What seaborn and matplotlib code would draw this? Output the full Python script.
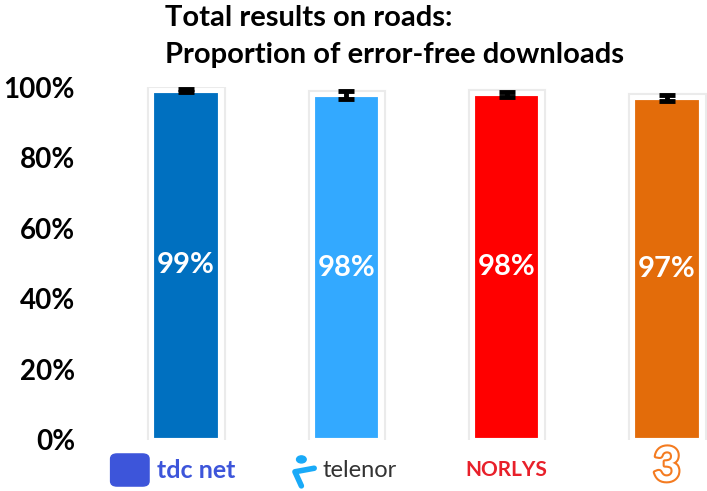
"""
Total results on roads: proportion of error-free downloads per operator.
"""

import matplotlib.pyplot as plt
import matplotlib.patheffects as pe
import matplotlib.transforms as mtransforms
import numpy as np
import seaborn as sns
from matplotlib.patches import FancyBboxPatch, Ellipse

operators = ["tdc net", "telenor", "NORLYS", "3"]
success_rate = [0.989, 0.977, 0.979, 0.969]
error_low = [0.004, 0.012, 0.008, 0.009]
error_high = [0.004, 0.012, 0.008, 0.009]
value_labels = ["99%", "98%", "98%", "97%"]
bar_colors = ["#0070C0", "#33A9FF", "#FF0000", "#E36C0A"]
y_ticks = [0.0, 0.2, 0.4, 0.6, 0.8, 1.0]
y_tick_labels = ["0%", "20%", "40%", "60%", "80%", "100%"]

FONT = "Lato"


def main():
    sns.set_style("white")
    plt.rcParams["font.family"] = [FONT, "DejaVu Sans"]
    plt.rcParams["text.color"] = "black"
    plt.rcParams["ytick.color"] = "black"

    fig = plt.figure(figsize=(7.07, 4.91), dpi=100)
    ax = fig.add_axes([100 / 707, 51 / 491, 607 / 707, 353 / 491])

    sns.barplot(x=operators, y=success_rate, hue=operators, palette=bar_colors,
                saturation=1, legend=False, width=0.42, edgecolor="white",
                linewidth=3, ax=ax)
    for patch in ax.patches:
        patch.set_path_effects([pe.Stroke(linewidth=8, foreground="#ebebeb"),
                                pe.Stroke(linewidth=5, foreground="white"),
                                pe.Normal()])

    x = np.arange(len(operators))
    ax.errorbar(x, success_rate, yerr=[error_low, error_high], fmt="none",
                ecolor="black", elinewidth=3.5, capsize=6, capthick=3.5,
                clip_on=False, zorder=5)

    for i, label in enumerate(value_labels):
        ax.text(i, success_rate[i] / 2, label, ha="center", va="center",
                color="white", fontsize=21, fontweight="bold")

    ax.set_xlim(-0.536, 3.25)
    ax.set_ylim(0, 1.0)
    ax.set_yticks(y_ticks)
    ax.set_yticklabels(y_tick_labels, fontsize=20, fontweight="bold")
    ax.tick_params(axis="y", length=0, pad=18)
    ax.set_xticks([])
    sns.despine(ax=ax, left=True, bottom=True)

    fig.text(165 / 707, 1 - 18 / 491, "Total results on roads:", ha="left",
             va="center", fontsize=21, fontweight="bold")
    fig.text(165 / 707, 1 - 55 / 491, "Proportion of error-free downloads",
             ha="left", va="center", fontsize=21, fontweight="bold")

    # operator logos under the bars, placed on the category axis
    trans = mtransforms.blended_transform_factory(ax.transData, ax.transAxes)
    logo_y = -0.085
    tdc_blue = "#3D55DA"
    ax.add_patch(FancyBboxPatch((-0.46, logo_y - 0.042), 0.22, 0.084,
                                boxstyle="round,pad=0.01,rounding_size=0.04",
                                transform=trans, color=tdc_blue, clip_on=False,
                                mutation_aspect=0.35))
    ax.text(-0.18, logo_y, "tdc net", transform=trans, ha="left", va="center",
            color=tdc_blue, fontsize=18, fontweight="bold")
    ax.add_patch(Ellipse((0.72, logo_y + 0.03), 0.06, 0.02, transform=trans,
                         color="#19AAF8", clip_on=False))
    ax.plot([0.8, 0.68, 0.72], [logo_y + 0.005, logo_y - 0.005, logo_y - 0.045],
            transform=trans, color="#19AAF8", lw=4, solid_capstyle="round",
            clip_on=False)
    ax.text(0.85, logo_y, "telenor", transform=trans, ha="left", va="center",
            color="#333333", fontsize=17)
    ax.text(2, logo_y, "NORLYS", transform=trans, ha="center", va="center",
            color="#E8202A", fontsize=15, fontweight="bold")
    ax.text(3, -0.116, "3", transform=trans, ha="center", va="baseline",
            color="white", fontsize=34, fontweight="bold",
            path_effects=[pe.Stroke(linewidth=3, foreground="#F47B20"),
                          pe.Normal()])

    fig.savefig("out.png", dpi=100)
    plt.close(fig)


if __name__ == "__main__":
    main()
